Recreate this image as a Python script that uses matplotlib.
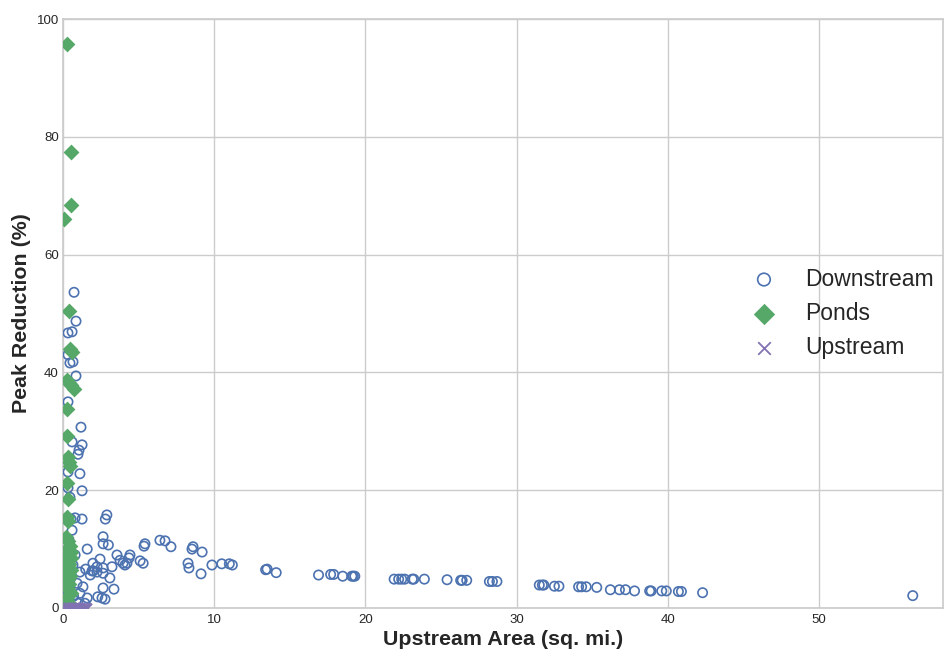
import matplotlib
matplotlib.use("Agg")
import matplotlib.pyplot as plt
import seaborn as sns

sns.set_theme(style="whitegrid", palette="deep")
plt.rcParams['font.family'] = ['Liberation Sans', 'DejaVu Sans']

# Downstream
down_x = [0.73, 0.86, 0.33, 0.6, 0.33, 0.66, 0.46, 0.86, 0.33, 1.19, 0.6, 1.26, 1.06, 0.99,
          1.12, 0.33, 1.26, 0.46, 0.33, 0.8, 0.53, 1.26, 0.6, 0.4, 1.6, 0.8, 0.66, 1.12,
          0.93, 1.32, 1.12, 1.6, 0.99, 1.45, 0.5, 0.7, 0.3, 0.4, 1.5, 1.8, 2.0,
          2.8, 2.9, 2.65, 2.65, 3.0, 3.57, 4.43, 4.37, 3.77, 3.97, 4.23, 4.1, 2.45, 1.98,
          2.25, 2.65, 3.24, 1.92, 2.25, 2.65, 3.1, 2.65, 3.37, 2.3, 2.58, 2.78,
          5.42, 5.36, 6.41, 6.75, 7.14, 5.1, 5.3, 8.53, 8.6, 9.2, 8.27, 8.33, 9.13,
          9.85, 10.5, 11.0, 11.2, 13.4, 13.5, 14.1, 16.9, 17.7, 17.9, 18.5, 19.1, 19.2,
          19.3, 21.9, 22.2, 22.4, 22.6, 23.1, 23.2, 23.9, 25.4, 26.3, 26.4, 26.7, 28.2,
          28.4, 28.7, 31.5, 31.7, 31.8, 32.5, 32.8, 34.1, 34.3, 34.6, 35.3, 36.2, 36.8,
          37.2, 37.8, 38.8, 38.9, 39.6, 39.9, 40.7, 40.9, 42.3, 56.2]
down_y = [53.6, 48.7, 46.7, 46.9, 43.0, 41.8, 41.6, 39.4, 35.0, 30.7, 28.2, 27.7, 26.8, 26.1,
          22.8, 23.1, 19.9, 18.8, 20.4, 15.3, 15.1, 15.1, 13.2, 11.5, 10.0, 9.0, 7.3, 6.1,
          4.2, 3.6, 2.5, 1.7, 0.8, 0.8, 5.0, 2.0, 3.0, 1.2, 6.6, 5.6, 6.3,
          15.1, 15.8, 12.1, 10.9, 10.7, 9.0, 9.0, 8.5, 8.1, 7.6, 7.6, 7.3, 8.3, 7.6,
          7.0, 6.8, 7.0, 6.3, 6.1, 5.9, 5.1, 3.4, 3.2, 1.9, 1.7, 1.5,
          10.9, 10.5, 11.5, 11.4, 10.4, 8.0, 7.6, 10.0, 10.4, 9.5, 7.6, 6.8, 5.8,
          7.3, 7.5, 7.5, 7.3, 6.5, 6.6, 6.0, 5.6, 5.7, 5.7, 5.4, 5.4, 5.4,
          5.4, 4.9, 4.9, 4.9, 4.9, 4.9, 4.9, 4.9, 4.8, 4.7, 4.7, 4.7, 4.5,
          4.5, 4.5, 3.9, 3.9, 3.9, 3.7, 3.7, 3.6, 3.6, 3.6, 3.5, 3.1, 3.1,
          3.1, 2.9, 2.9, 2.9, 2.9, 2.9, 2.8, 2.8, 2.6, 2.1]

# Ponds
ponds_x = [0.26, 0.53, 0.53, 0.07, 0.4, 0.46, 0.6, 0.26, 0.4, 0.73, 0.53, 0.26, 0.26, 0.33,
           0.4, 0.46, 0.26, 0.33, 0.26, 0.33, 0.2, 0.3, 0.45, 0.25, 0.5, 0.35, 0.55, 0.2,
           0.4, 0.3, 0.5, 0.25, 0.45, 0.35, 0.2, 0.4, 0.3, 0.5, 0.25, 0.35, 0.3]
ponds_y = [95.8, 77.4, 68.4, 66.0, 50.4, 44.0, 43.5, 38.7, 38.2, 37.2, 37.8, 33.8, 29.2, 25.6,
           24.8, 24.1, 21.2, 18.5, 15.4, 14.8, 12.1, 11.3, 10.5, 10.0, 9.5, 9.0, 8.5, 8.0,
           7.5, 7.0, 6.5, 6.0, 5.5, 5.0, 4.5, 4.0, 3.3, 2.5, 1.8, 1.0, 0.3]

# Upstream
up_x = [0.0, 0.1, 0.2, 0.3, 0.4, 0.5, 0.6, 0.7, 0.8, 0.9, 1.0, 1.1, 1.2, 1.3, 1.4, 1.5, 1.6]
up_y = [0.0, 0.1, 0.0, 0.2, 0.0, 0.1, 0.0, 0.2, 0.0, 0.1, 0.0, 0.1, 0.0, 0.2, 0.0, 0.1, 0.0]

x_ticks = [0, 10, 20, 30, 40, 50]
y_ticks = [0, 20, 40, 60, 80, 100]

pal = sns.color_palette("deep")
fig = plt.figure(figsize=(9.44, 6.52), dpi=100)
ax = fig.add_axes([63 / 944, 44 / 652, 880 / 944, 589 / 652])

ax.scatter(down_x, down_y, s=45, facecolors='none', edgecolors=pal[0], linewidths=1.2,
           label='Downstream', zorder=3)
ax.scatter(ponds_x, ponds_y, s=65, marker='D', color=pal[2], linewidths=0,
           label='Ponds', zorder=3)
ax.scatter(up_x, up_y, s=45, marker='x', color=pal[4], linewidths=1.3,
           label='Upstream', zorder=3)

ax.set_xlim(0, 58.2)
ax.set_ylim(0, 100)
ax.set_xticks(x_ticks)
ax.set_yticks(y_ticks)
ax.tick_params(axis='both', labelsize=9.5, colors='#262626', length=0)
ax.tick_params(axis='x', pad=4.5)
ax.tick_params(axis='y', pad=3)
ax.set_xlabel('Upstream Area (sq. mi.)', fontsize=15.4, fontweight='bold', labelpad=3)
ax.set_ylabel('Peak Reduction (%)', fontsize=15.4, fontweight='bold', labelpad=4)

leg = ax.legend(loc='center right', bbox_to_anchor=(1.0, 0.5), borderaxespad=0,
                frameon=False, fontsize=16.5, markerscale=1.35,
                handletextpad=0.8, labelspacing=0.5)

fig.savefig('out.png', dpi=100)
